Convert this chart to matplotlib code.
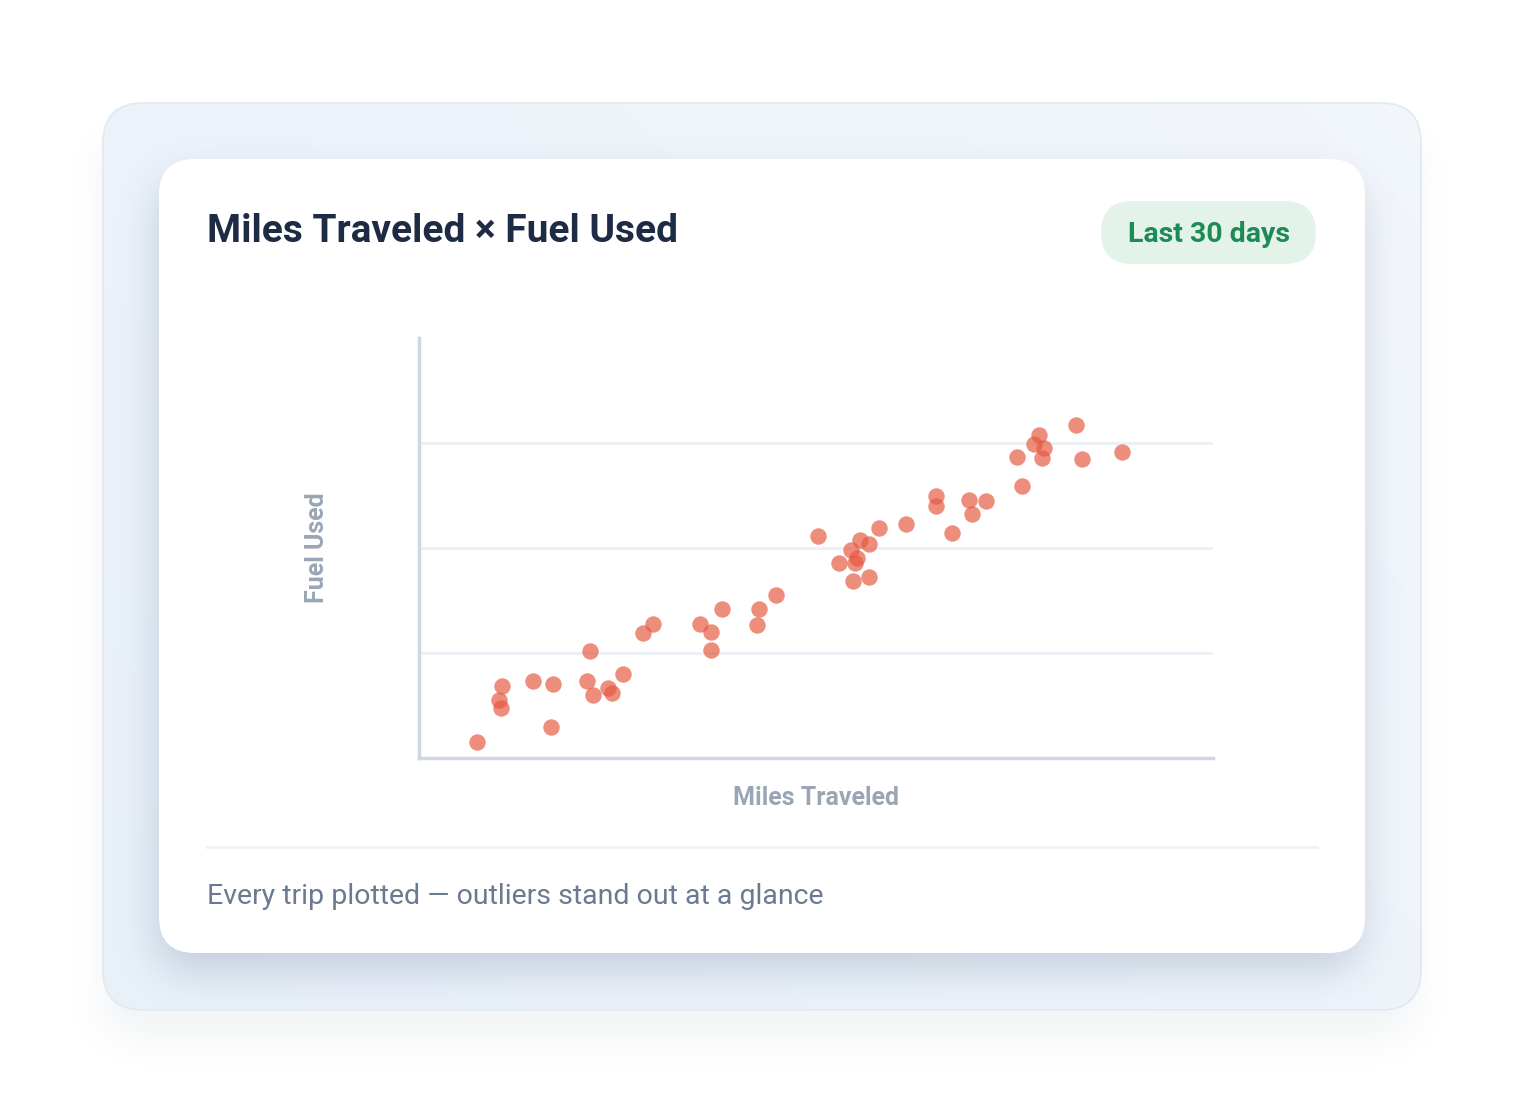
import matplotlib.pyplot as plt
import numpy as np
from matplotlib.patches import FancyBboxPatch

plt.rcParams['font.family'] = ['Roboto', 'DejaVu Sans']

# Trip data (no tick labels shown, so units are nominal)
miles = [29.1, 42.0, 40.2, 41.2, 57.6, 67.7, 66.5, 86.0, 84.8, 87.8,
         95.4, 97.2, 102.9, 113.0, 118.0, 141.4, 147.0, 147.3, 152.5, 171.3,
         170.3, 180.0, 201.0, 222.2, 226.9, 231.6, 217.6, 220.5, 211.7, 219.7,
         218.8, 226.6, 245.3, 260.3, 260.6, 268.7, 277.2, 285.5, 278.8, 301.1,
         303.6, 312.5, 310.0, 314.9, 314.0, 331.0, 333.9, 354.2]
fuel = [1.55, 6.89, 5.52, 4.79, 7.36, 7.08, 2.98, 10.22, 7.36, 5.97,
        6.64, 6.16, 7.97, 11.90, 12.73, 12.76, 11.97, 10.29, 14.16, 14.16,
        12.70, 15.52, 21.14, 20.76, 20.38, 21.93, 19.81, 19.02, 18.54, 18.54,
        16.89, 17.27, 22.26, 24.98, 24.00, 21.46, 24.54, 24.50, 23.24, 28.64,
        25.93, 30.76, 29.90, 29.50, 28.60, 31.71, 28.45, 29.11]
x_range = (0, 400)
y_range = (0, 40)
y_grid = [10, 20, 30]

title = 'Miles Traveled \u00d7 Fuel Used'
badge = 'Last 30 days'
x_label = 'Miles Traveled'
y_label = 'Fuel Used'
footer = 'Every trip plotted \u2014 outliers stand out at a glance'

W, H = 1524, 1113
fig = plt.figure(figsize=(W / 100, H / 100), dpi=100)
fig.patch.set_facecolor('white')

# background layer in pixel coordinates
bg = fig.add_axes([0, 0, 1, 1])
bg.set_xlim(0, W)
bg.set_ylim(H, 0)
bg.axis('off')


def rounded_mask(x0, y0, x1, y1, r):
    yy, xx = np.mgrid[0:H, 0:W] + 0.5
    cx = np.clip(xx, x0 + r, x1 - r)
    cy = np.clip(yy, y0 + r, y1 - r)
    return ((xx - cx) ** 2 + (yy - cy) ** 2 <= r * r).astype(float)


def blur(a, k, passes=3):
    for _ in range(passes):
        for axis in (0, 1):
            pad = [(k, k + 1) if i == axis else (0, 0) for i in range(2)]
            c = np.cumsum(np.pad(a, pad, mode='edge'), axis=axis)
            if axis == 0:
                a = (c[2 * k + 1:, :] - c[:-2 * k - 1, :]) / (2 * k + 1)
            else:
                a = (c[:, 2 * k + 1:] - c[:, :-2 * k - 1]) / (2 * k + 1)
    return a


def shadow(x0, y0, x1, y1, r, dy, k, color, alpha, z):
    m = blur(rounded_mask(x0, y0 + dy, x1, y1 + dy, r), k)
    img = np.zeros((H, W, 4))
    img[..., :3] = color
    img[..., 3] = m * alpha
    return bg.imshow(img, extent=(0, W, H, 0), zorder=z, interpolation='bilinear')


# outer panel shadow + gradient fill
shadow(103, 103, 1421, 1010, 40, 32, 16, (0.5, 0.55, 0.62), 0.09, 1)
panel = FancyBboxPatch((103, 103), 1318, 907, boxstyle='round,pad=0,rounding_size=40',
                       facecolor='none', edgecolor='#e2e8f0', linewidth=1.2, zorder=3.5)
bg.add_patch(panel)
gx = np.linspace(0, 1, 256)[None, :]
gy = np.linspace(0, 1, 256)[:, None]
c0 = np.array([0.910, 0.941, 0.975])
c1 = np.array([0.950, 0.966, 0.988])
t = np.clip(gx * 0.6 + (1 - gy) * 0.4, 0, 1)
gimg = c0 + (c1 - c0) * t[..., None]
im = bg.imshow(gimg, extent=(103, 1421, 1010, 103), zorder=2, interpolation='bilinear')
im.set_clip_path(panel)

# inner card shadow (clipped to panel) + card
sh = shadow(159, 159, 1365, 953, 36, 22, 18, (0.45, 0.52, 0.62), 0.30, 3)
sh.set_clip_path(panel)
card = FancyBboxPatch((159, 159), 1206, 794, boxstyle='round,pad=0,rounding_size=36',
                      facecolor='white', edgecolor='none', zorder=4)
bg.add_patch(card)

# header
bg.text(207, 232, title, fontsize=28, fontweight='bold', color='#1e2b45',
        va='center', ha='left', zorder=5)
pill = FancyBboxPatch((1101, 201), 215, 63, boxstyle='round,pad=0,rounding_size=31.5',
                      facecolor='#e3f3ea', edgecolor='none', zorder=5)
bg.add_patch(pill)
bg.text(1208.5, 235, badge, fontsize=20.5, fontweight='bold', color='#1e8a55',
        va='center', ha='center', zorder=6)

# footer
bg.plot([207, 1317], [847, 847], color='#eef1f5', linewidth=2, zorder=5)
bg.text(207, 897, footer, fontsize=20.5, color='#6b7a90', va='center', ha='left', zorder=5)

# scatter axes
ax = fig.add_axes([419 / W, (H - 758) / H, 794 / W, 420 / H])
ax.set_facecolor('none')
ax.scatter(miles, fuel, s=140, color='#e5583f', alpha=0.68, linewidths=0, zorder=3)
ax.set_xlim(*x_range)
ax.set_ylim(*y_range)
for g in y_grid:
    ax.axhline(g, color='#edf1f5', linewidth=2.2, zorder=1)
ax.set_xticks([])
ax.set_yticks([])
for side in ['top', 'right']:
    ax.spines[side].set_visible(False)
for side in ['left', 'bottom']:
    ax.spines[side].set_color('#cfd8e2')
    ax.spines[side].set_linewidth(2.5)
ax.set_xlabel(x_label, fontsize=18, fontweight='bold', color='#9ba6b5', labelpad=20)
ax.set_ylabel(y_label, fontsize=18, fontweight='bold', color='#9ba6b5', labelpad=65)

fig.savefig('out.png', dpi=100, facecolor='white')
